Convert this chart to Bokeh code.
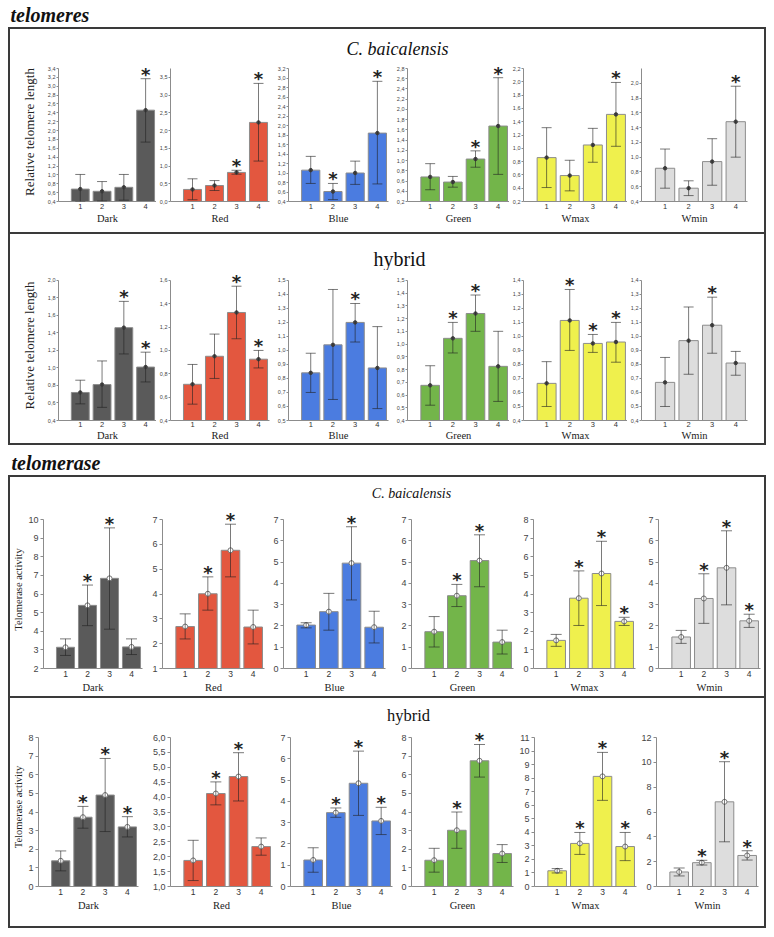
from bokeh.plotting import figure
from bokeh.layouts import column, row
from bokeh.models import (ColumnDataSource, Range1d, FixedTicker, CustomJSTickFormatter,
                          Whisker, TeeHead, Label, LabelSet)
from bokeh.core.properties import value
from bokeh.embed import file_html
from bokeh.resources import INLINE

SERIF = "Liberation Serif"
SANS = "Liberation Sans"
BORDER = "2px solid #3a3a3a"

conditions = ["Dark", "Red", "Blue", "Green", "Wmax", "Wmin"]
bar_colors = ["#5a5a5a", "#e3573f", "#4b7ce0", "#73b54a", "#eff04d", "#dddddd"]
groups = [1, 2, 3, 4]

# ---------------- telomeres, C. baicalensis ----------------
tel_cb_mean = [[0.68, 0.63, 0.72, 2.46], [0.34, 0.45, 0.82, 2.23], [1.06, 0.61, 1.00, 1.84],
               [0.68, 0.58, 1.03, 1.675], [0.86, 0.59, 1.05, 1.51], [0.85, 0.58, 0.94, 1.48]]
tel_cb_low = [[0.40, 0.41, 0.43, 1.74], [0.05, 0.31, 0.77, 1.14], [0.78, 0.44, 0.76, 0.77],
              [0.43, 0.48, 0.87, 0.73], [0.41, 0.36, 0.79, 1.03], [0.58, 0.48, 0.62, 1.00]]
tel_cb_high = [[1.01, 0.85, 1.01, 3.17], [0.64, 0.59, 0.88, 3.33], [1.35, 0.78, 1.25, 2.93],
               [0.94, 0.69, 1.19, 2.62], [1.31, 0.82, 1.30, 1.99], [1.11, 0.68, 1.25, 1.96]]
tel_cb_star = [[0, 0, 0, 1], [0, 0, 1, 1], [0, 1, 0, 1], [0, 0, 1, 1], [0, 0, 0, 1], [0, 0, 0, 1]]
tel_cb_yaxis = [(0.4, 3.4, 0.2, 3.4), (0.0, 3.5, 0.5, 3.75), (0.4, 3.2, 0.2, 3.2),
                (0.2, 2.8, 0.2, 2.8), (0.2, 2.2, 0.2, 2.2), (0.4, 2.0, 0.2, 2.2)]

# ---------------- telomeres, hybrid ----------------
tel_hy_mean = [[0.72, 0.81, 1.46, 1.01], [0.71, 0.95, 1.325, 0.925], [0.84, 1.04, 1.20, 0.875],
               [0.676, 1.045, 1.24, 0.825], [0.665, 1.114, 0.95, 0.96], [0.672, 0.97, 1.08, 0.81]]
tel_hy_low = [[0.59, 0.55, 1.16, 0.84], [0.54, 0.76, 1.10, 0.85], [0.70, 0.65, 1.06, 0.585],
              [0.52, 0.93, 1.10, 0.55], [0.50, 0.90, 0.886, 0.816], [0.50, 0.73, 0.88, 0.723]]
tel_hy_high = [[0.86, 1.08, 1.76, 1.18], [0.88, 1.14, 1.55, 1.00], [0.98, 1.435, 1.335, 1.17],
               [0.83, 1.17, 1.385, 1.10], [0.82, 1.335, 1.014, 1.10], [0.85, 1.21, 1.28, 0.893]]
tel_hy_star = [[0, 0, 1, 1], [0, 0, 1, 1], [0, 0, 1, 0], [0, 1, 1, 0], [0, 1, 1, 1], [0, 0, 1, 0]]
tel_hy_yaxis = [(0.4, 2.0, 0.2, 2.0), (0.4, 1.6, 0.2, 1.6), (0.5, 1.5, 0.1, 1.5),
                (0.4, 1.5, 0.1, 1.5), (0.4, 1.4, 0.1, 1.4), (0.4, 1.4, 0.1, 1.4)]

# ---------------- telomerase, C. baicalensis ----------------
tms_cb_mean = [[3.14, 5.39, 6.84, 3.16], [2.69, 4.01, 5.76, 2.67], [2.04, 2.67, 4.95, 1.94],
               [1.73, 3.42, 5.07, 1.24], [1.51, 3.775, 5.10, 2.53], [1.48, 3.29, 4.73, 2.24]]
tms_cb_low = [[2.70, 4.30, 4.11, 2.75], [2.19, 3.35, 4.69, 1.99], [1.91, 1.80, 3.22, 1.20],
              [1.01, 2.91, 3.84, 0.68], [1.19, 2.31, 3.38, 2.31], [1.18, 2.12, 2.99, 1.93]]
tms_cb_high = [[3.59, 6.48, 9.55, 3.59], [3.20, 4.69, 6.81, 3.35], [2.15, 3.53, 6.66, 2.69],
               [2.44, 3.95, 6.28, 1.80], [1.83, 5.24, 6.83, 2.75], [1.79, 4.45, 6.47, 2.55]]
tms_cb_star = [[0, 1, 1, 0], [0, 1, 1, 0], [0, 0, 1, 0], [0, 1, 1, 0], [0, 1, 1, 1], [0, 1, 1, 1]]
tms_cb_yaxis = [(2, 10, 1, 10), (1, 7, 1, 7), (0, 7, 1, 7), (0, 7, 1, 7), (0, 8, 1, 8), (0, 7, 1, 7)]

# ---------------- telomerase, hybrid ----------------
tms_hy_mean = [[1.38, 3.72, 4.91, 3.20], [1.875, 4.12, 4.69, 2.34], [1.245, 3.47, 4.85, 3.08],
               [1.41, 3.02, 6.75, 1.77], [1.16, 3.18, 8.13, 2.95], [1.17, 1.92, 6.82, 2.50]]
tms_hy_low = [[0.84, 3.13, 2.95, 2.66], [1.20, 3.74, 3.87, 2.05], [0.67, 3.25, 3.34, 2.44],
              [0.77, 2.05, 5.875, 1.29], [1.00, 2.37, 6.36, 1.91], [0.85, 1.73, 3.60, 2.13]]
tms_hy_high = [[1.91, 4.30, 6.875, 3.75], [2.55, 4.51, 5.49, 2.63], [1.82, 3.69, 6.36, 3.72],
               [2.05, 4.00, 7.625, 2.25], [1.32, 3.99, 9.90, 3.99], [1.49, 2.11, 10.05, 2.88]]
tms_hy_star = [[0, 1, 1, 1], [0, 1, 1, 0], [0, 1, 1, 1], [0, 1, 1, 0], [0, 1, 1, 1], [0, 1, 1, 1]]
tms_hy_yaxis = [(0, 8, 1, 8), (1.0, 6.0, 0.5, 6.0), (0, 7, 1, 7), (0, 8, 1, 8), (0, 11, 1, 11), (0, 12, 2, 12)]


def yticks(lo, hi, step):
    n = int(round((hi - lo) / step))
    return [round(lo + i * step, 4) for i in range(n + 1)]


def chart(k, mean, low, high, star, yspec, dec, geom, st):
    ymin, ymax, step, ytop = yspec
    w, L, R = geom
    # the frame is stretched up into the top margin so that the asterisks are not clipped;
    # the axis line itself stops at ytop via `bounds`
    frame_h = st["h"] - st["top"] - st["bottom"]
    ext_top = ytop + st["top"] * (ytop - ymin) / frame_h
    p = figure(width=w, height=st["h"], x_range=Range1d(0, 4.5), y_range=Range1d(ymin, ext_top),
               output_backend="svg", toolbar_location=None,
               min_border_left=L, min_border_right=R,
               min_border_top=0, min_border_bottom=st["bottom"])
    p.outline_line_color = None
    p.xgrid.grid_line_color = None
    p.ygrid.grid_line_color = None
    p.background_fill_color = "white"
    p.border_fill_color = "white"

    src = ColumnDataSource(dict(x=groups, top=mean, lo=low, hi=high))
    p.vbar(x="x", top="top", bottom=ymin, width=0.82, source=src,
           fill_color=bar_colors[k], line_color="#8c8c8c", line_width=1)
    wh = Whisker(source=src, base="x", upper="hi", lower="lo", level="overlay",
                 line_color="#222222", line_alpha=0.6, line_width=1,
                 upper_head=TeeHead(size=st["cap"], line_color="#222222", line_alpha=0.6, line_width=1),
                 lower_head=TeeHead(size=st["cap"], line_color="#222222", line_alpha=0.6, line_width=1))
    p.add_layout(wh)
    p.scatter(x="x", y="top", source=src, size=st["msize"], fill_color=st["mfill"],
              line_color=st["mline"], line_width=1)

    sx = [g for g, s in zip(groups, star) if s]
    sy = [h for h, s in zip(high, star) if s]
    ssrc = ColumnDataSource(dict(x=sx, y=sy, t=["*"] * len(sx)))
    p.add_layout(LabelSet(x="x", y="y", text="t", source=ssrc, text_align="center",
                          text_baseline="alphabetic", y_offset=st["soff"],
                          text_font=value("DejaVu Sans"), text_font_size=value(st["ssize"]),
                          text_font_style="bold", text_color="#222222"))

    xa = p.xaxis[0]
    xa.ticker = FixedTicker(ticks=groups)
    xa.axis_label = conditions[k]
    xa.axis_label_text_font = SERIF
    xa.axis_label_text_font_style = "normal"
    xa.axis_label_text_font_size = st["xlab"]
    xa.axis_label_text_color = "#222222"
    xa.axis_label_standoff = st["xlab_so"]
    xa.major_label_text_font = SANS
    xa.major_label_text_font_size = st["xtick"]
    xa.major_label_text_color = "#333333"
    xa.major_label_standoff = st["xtick_so"]
    xa.major_tick_out = 0
    xa.major_tick_in = 0
    xa.minor_tick_out = 0
    xa.minor_tick_in = 0
    xa.axis_line_color = "#8c8c8c"

    ya = p.yaxis[0]
    ya.bounds = (ymin, ytop)
    ya.ticker = FixedTicker(ticks=yticks(ymin, ymax, step))
    ya.formatter = CustomJSTickFormatter(
        args=dict(d=dec),
        code="return d > 0 ? tick.toFixed(d).replace('.', ',') : tick.toFixed(0);")
    ya.major_label_text_font = SANS
    ya.major_label_text_font_size = st["ytick"]
    ya.major_label_text_color = "#444444"
    ya.major_label_standoff = st["ytick_so"]
    ya.major_tick_out = st["ytick_out"]
    ya.major_tick_in = 0
    ya.minor_tick_out = 0
    ya.minor_tick_in = 0
    ya.axis_line_color = "#8c8c8c"
    ya.major_tick_line_color = "#8c8c8c"
    if k == 0:
        ya.axis_label = st["ylabel"]
        ya.axis_label_text_font = SERIF
        ya.axis_label_text_font_style = "normal"
        ya.axis_label_text_font_size = st["ylab"]
        ya.axis_label_text_color = "#222222"
        ya.axis_label_standoff = st["ylab_so"]
    return p


def title_fig(text, w, h, cx, cy, size, style, align="center"):
    p = figure(width=w, height=h, x_range=Range1d(0, w), y_range=Range1d(h, 0),
               x_axis_type=None, y_axis_type=None, output_backend="svg", toolbar_location=None,
               min_border=0, min_border_left=0, min_border_right=0, min_border_top=0, min_border_bottom=0)
    p.outline_line_color = None
    p.background_fill_color = "white"
    p.border_fill_color = "white"
    p.add_layout(Label(x=cx, y=cy, text=text, text_align=align, text_baseline="middle",
                       text_font=SERIF, text_font_size=size, text_font_style=style,
                       text_color="#111111"))
    return p


def panel(means, lows, highs, stars, yaxes, decs, geoms, st):
    return [chart(k, means[k], lows[k], highs[k], stars[k], yaxes[k], decs[k], geoms[k], st)
            for k in range(6)]


tel_style = dict(cap=10, msize=3.5, mfill="#444444", mline="#444444", soff=-2, ssize="18px",
                 xlab="10.5px", xtick="7.5px", xlab_so=1, xtick_so=2, ytick="5.5px", ytick_so=1,
                 ytick_out=2, ylabel="Relative telomere length", ylab="13px", ylab_so=8)
tel_cb_st = dict(tel_style, h=170, top=6, bottom=31)
tel_hy_st = dict(tel_style, h=173, top=10, bottom=21, xlab_so=0, xtick_so=1)

tms_style = dict(cap=11, msize=5, mfill="white", mline="#777777", soff=-2, ssize="18px",
                 xlab="10.5px", xtick="8.5px", xlab_so=2, xtick_so=2, ytick="9px", ytick_so=2,
                 ytick_out=3, ylabel="Telomerase activity", ylab="10.5px", ylab_so=1)
tms_cb_st = dict(tms_style, h=186, top=9, bottom=28)
tms_hy_st = dict(tms_style, h=199, top=10, bottom=40)

tel_geom = [(146, 48, 0), (118, 13, 5), (119, 13, 5), (116, 13, 0), (118, 13, 0), (137, 13, 17)]
tms_cb_geom = [(137, 30, 5), (121, 15, 4), (128, 15, 11), (122, 15, 5), (125, 15, 8), (121, 15, 4)]
tms_hy_geom = [(136, 26, 8), (129, 24, 3), (121, 15, 4), (120, 15, 3), (122, 18, 2), (126, 18, 6)]

ch1 = panel(tel_cb_mean, tel_cb_low, tel_cb_high, tel_cb_star, tel_cb_yaxis, [1] * 6, tel_geom, tel_cb_st)
ch2 = panel(tel_hy_mean, tel_hy_low, tel_hy_high, tel_hy_star, tel_hy_yaxis, [1] * 6, tel_geom, tel_hy_st)
ch3 = panel(tms_cb_mean, tms_cb_low, tms_cb_high, tms_cb_star, tms_cb_yaxis, [0] * 6, tms_cb_geom, tms_cb_st)
ch4 = panel(tms_hy_mean, tms_hy_low, tms_hy_high, tms_hy_star, tms_hy_yaxis, [0, 1, 0, 0, 0, 0], tms_hy_geom, tms_hy_st)

t_top = title_fig("telomeres", 774, 27, 10, 14, "20px", "bold italic", "left")
t1 = title_fig("C. baicalensis", 754, 33, 387, 19, "18px", "italic")
t2 = title_fig("hybrid", 754, 36, 389, 24, "20px", "normal")
t_mid = title_fig("telomerase", 774, 30, 11, 17, "20px", "bold italic", "left")
t3 = title_fig("C. baicalensis", 754, 33, 401, 16, "14px", "italic")
t4 = title_fig("hybrid", 754, 29, 398, 17, "16.5px", "normal")

panel1 = column(t1, row(*ch1), styles={"border-bottom": BORDER})
panel2 = column(t2, row(*ch2))
box1 = column(panel1, panel2, styles={"border": BORDER}, margin=(0, 0, 0, 8))
panel3 = column(t3, row(*ch3), styles={"border-bottom": BORDER})
panel4 = column(t4, row(*ch4))
box2 = column(panel3, panel4, styles={"border": BORDER}, margin=(0, 0, 0, 8))

root = column(t_top, box1, t_mid, box2)

open("out.html", "w").write(file_html(root, INLINE, title="telomeres and telomerase"))
